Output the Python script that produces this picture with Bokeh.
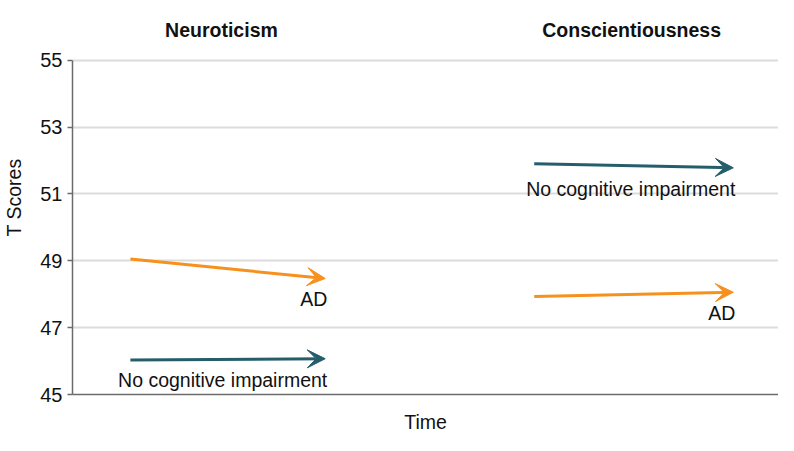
from bokeh.plotting import figure
from bokeh.models import ColumnDataSource, Arrow, VeeHead, Range1d, FixedTicker
from bokeh.core.properties import value
from bokeh.embed import file_html
from bokeh.resources import INLINE

# ---- data ----
traits = ["Neuroticism", "Conscientiousness"]
title_x = [21.1, 79.2]
time_start = [8.2, 65.4]
time_end = [35.8, 93.6]
ad_start = [49.05, 47.93]
ad_end = [48.47, 48.06]
nci_start = [46.03, 51.90]
nci_end = [46.07, 51.78]
y_ticks = [45, 47, 49, 51, 53, 55]

ORANGE = "#F7911E"
TEAL = "#255D6B"
FONT = "Liberation Sans"

p = figure(width=778, height=435, output_backend="svg", toolbar_location=None,
           x_range=Range1d(0, 100), y_range=Range1d(45, 55 + 60 / 33.6),
           min_border_left=72, min_border_right=0, min_border_top=0,
           min_border_bottom=39)
p.outline_line_color = None
p.background_fill_color = "white"

# axes
p.yaxis.ticker = FixedTicker(ticks=y_ticks)
p.yaxis.bounds = (45, 55)
p.yaxis.axis_label = "T Scores"
p.yaxis.axis_label_text_font = FONT
p.yaxis.axis_label_text_font_size = "19.5px"
p.yaxis.axis_label_text_font_style = "normal"
p.yaxis.axis_label_text_color = "#111111"
p.yaxis.axis_label_standoff = 12
p.yaxis.major_label_text_font = FONT
p.yaxis.major_label_text_font_size = "20px"
p.yaxis.major_label_text_color = "#111111"
p.yaxis.major_label_standoff = 5
p.yaxis.major_tick_out = 5
p.yaxis.major_tick_in = 0
p.yaxis.minor_tick_line_color = None
p.yaxis.axis_line_color = "#6b6b6b"
p.yaxis.axis_line_width = 1.5
p.yaxis.major_tick_line_color = "#6b6b6b"
p.yaxis.major_tick_line_width = 1.5

p.xaxis.ticker = FixedTicker(ticks=[])
p.xaxis.axis_label = "Time"
p.xaxis.axis_label_text_font = FONT
p.xaxis.axis_label_text_font_size = "19.5px"
p.xaxis.axis_label_text_font_style = "normal"
p.xaxis.axis_label_text_color = "#111111"
p.xaxis.axis_label_standoff = 16
p.xaxis.major_tick_out = 0
p.xaxis.major_tick_in = 0
p.xaxis.minor_tick_line_color = None
p.xaxis.axis_line_color = "#6b6b6b"
p.xaxis.axis_line_width = 1.5

p.xgrid.grid_line_color = None
p.ygrid.grid_line_color = "#dcdcdc"
p.ygrid.grid_line_width = 2

# arrows
ad_src = ColumnDataSource(dict(x0=time_start, y0=ad_start, x1=time_end, y1=ad_end))
nci_src = ColumnDataSource(dict(x0=time_start, y0=nci_start, x1=time_end, y1=nci_end))
for src, col in ((ad_src, ORANGE), (nci_src, TEAL)):
    p.add_layout(Arrow(end=VeeHead(size=18, fill_color=col, line_color=col),
                       x_start="x0", y_start="y0", x_end="x1", y_end="y1",
                       source=src, line_color=col, line_width=3))

# arrow labels
lab_src = ColumnDataSource(dict(
    x=time_end + time_end,
    y=ad_end + nci_end,
    t=["AD", "AD", "No cognitive impairment", "No cognitive impairment"],
))
p.text(x="x", y="y", text="t", source=lab_src, text_align="right",
       text_baseline="middle", x_offset=2, y_offset=21,
       text_font=value(FONT), text_font_size="19.5px", text_color="#111111")

# panel titles
ttl_src = ColumnDataSource(dict(x=title_x, y=[55, 55], t=traits))
p.text(x="x", y="y", text="t", source=ttl_src, text_align="center",
       text_baseline="middle", y_offset=-30,
       text_font=value(FONT), text_font_size="19.5px", text_font_style="bold",
       text_color="#111111")

open("out.html", "w").write(file_html(p, INLINE))
